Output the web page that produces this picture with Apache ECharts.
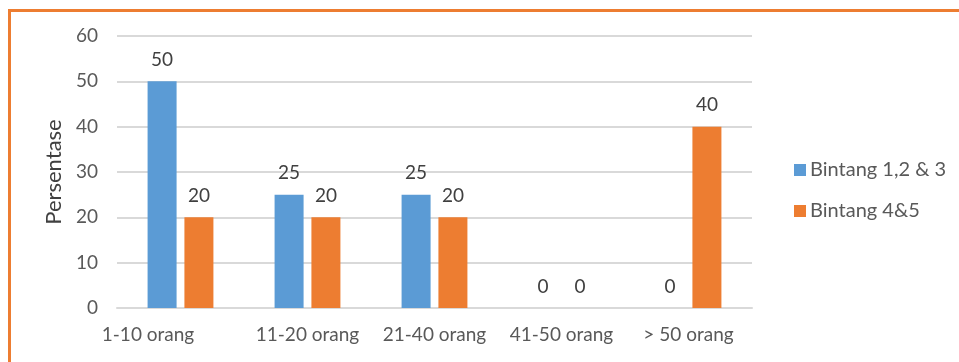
<!DOCTYPE html>
<html><head><meta charset="utf-8">
<script src="https://cdn.jsdelivr.net/npm/echarts@6/dist/echarts.min.js"></script>
<style>html,body{margin:0;padding:0;background:#fff}#c{width:959px;height:362px}</style>
</head><body><div id="c"></div>
<script>
const categories = ['1-10 orang', '11-20 orang', '21-40 orang', '41-50 orang', '> 50 orang'];
const seriesNames = ['Bintang 1,2 & 3', 'Bintang 4&5'];
const bintang123 = [50, 25, 25, 0, 0];
const bintang45 = [20, 20, 20, 0, 40];
const yTicks = [0, 10, 20, 30, 40, 50, 60];

const FONT = 'Lato';
const FS = 19;
const chart = echarts.init(document.getElementById('c'));
chart.setOption({
  animation: false,
  textStyle: { fontFamily: FONT },
  graphic: [{
    type: 'rect', shape: { x: 9.5, y: 10.5, width: 1200, height: 1000 },
    style: { fill: 'none', stroke: '#ED7D31', lineWidth: 3 }, silent: true
  }],
  grid: { left: 117, right: 207, top: 36, bottom: 54 },
  legend: {
    orient: 'vertical', left: 789, top: 155, itemWidth: 12, itemHeight: 12, itemGap: 21,
    icon: 'rect',
    textStyle: { fontSize: 20, color: '#595959', fontFamily: FONT, padding: [0, 0, 0, -1] },
    data: seriesNames
  },
  xAxis: {
    type: 'category', data: categories,
    axisLine: { show: true, lineStyle: { color: '#d9d9d9', width: 2 } },
    axisTick: { show: false },
    axisLabel: {
      fontSize: FS, color: '#595959', margin: 17, interval: 0,
      formatter: function (v, i) { return i === 0 ? '{a|' + v + '}' : v; },
      rich: { a: { fontSize: FS, color: '#595959', fontFamily: FONT, padding: [0, 65, 0, 0] } }
    }
  },
  yAxis: {
    type: 'value', min: 0, max: 60, interval: 10,
    name: 'Persentase', nameLocation: 'middle', nameGap: 46, nameRotate: 90,
    nameTextStyle: { fontSize: 22, color: '#404040', fontFamily: FONT },
    axisLine: { show: false }, axisTick: { show: false },
    axisLabel: { fontSize: FS, color: '#595959', margin: 19,
      formatter: function (v) { return yTicks.includes(v) ? String(v) : ''; } },
    splitLine: { lineStyle: { color: '#d9d9d9', width: 2 } }
  },
  series: [
    { name: seriesNames[0], type: 'bar', data: bintang123, barWidth: 29, barGap: '27%',
      itemStyle: { color: '#5B9BD5' },
      label: { show: true, position: 'top', distance: 12, fontSize: FS, color: '#404040', fontFamily: FONT } },
    { name: seriesNames[1], type: 'bar', data: bintang45, barWidth: 29,
      itemStyle: { color: '#ED7D31' },
      label: { show: true, position: 'top', distance: 12, fontSize: FS, color: '#404040', fontFamily: FONT } }
  ]
});
</script></body></html>
